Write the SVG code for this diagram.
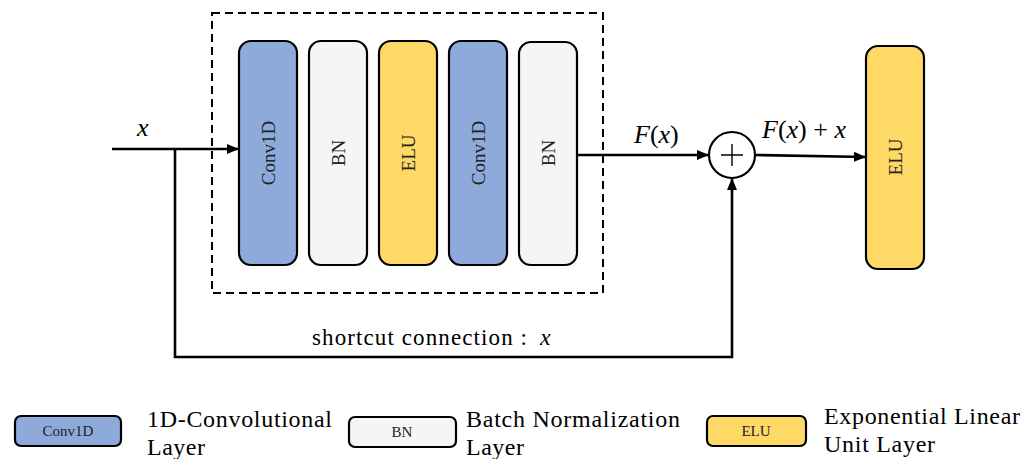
<svg xmlns="http://www.w3.org/2000/svg" width="1035" height="459" viewBox="0 0 1035 459">
<style>
.blk{stroke:#000;stroke-width:2.2}
.conv{fill:#8eaadb}
.bn{fill:#f5f5f5}
.elu{fill:#ffd966}
.lbl{font-family:"Liberation Serif",serif;font-size:19px;fill:#222;text-anchor:middle;dominant-baseline:central}
.leg{font-family:"Liberation Serif",serif;font-size:15px;fill:#222;text-anchor:middle;dominant-baseline:central}
.txt{font-family:"Liberation Serif",serif;font-size:24px;fill:#000}
.math{font-family:"Liberation Serif",serif;font-style:italic;font-size:26px;fill:#000}
.ln{stroke:#000;stroke-width:2.6;fill:none}
</style>
<defs>
<marker id="ah" viewBox="0 0 12 10" refX="12" refY="5" markerWidth="12" markerHeight="10" markerUnits="userSpaceOnUse" orient="auto">
<path d="M0,0 L12,5 L0,10 z" fill="#000"/>
</marker>
</defs>
<rect x="212" y="13" width="391" height="280" fill="none" stroke="#000" stroke-width="2" stroke-dasharray="8,5"/>
<g id="conv1"><rect class="blk conv" x="239" y="41" width="58" height="224" rx="12"/><text class="lbl" transform="translate(268,153) rotate(-90)">Conv1D</text></g>
<g id="bn1"><rect class="blk bn" x="309" y="41" width="58" height="224" rx="12"/><text class="lbl" transform="translate(338,153) rotate(-90)">BN</text></g>
<g id="elu1"><rect class="blk elu" x="379" y="41" width="58" height="224" rx="12"/><text class="lbl" transform="translate(408,153) rotate(-90)">ELU</text></g>
<g id="conv2"><rect class="blk conv" x="449" y="41" width="58" height="224" rx="12"/><text class="lbl" transform="translate(478,153) rotate(-90)">Conv1D</text></g>
<g id="bn2"><rect class="blk bn" x="519" y="42" width="58" height="223" rx="12"/><text class="lbl" transform="translate(548,153) rotate(-90)">BN</text></g>
<g id="add"><circle cx="732" cy="155" r="23" fill="#fff" stroke="#000" stroke-width="2.2"/><path d="M721,155 H743 M732,144 V166" stroke="#000" stroke-width="1.4"/></g>
<g id="elu2"><rect class="blk elu" x="866" y="46" width="58" height="223" rx="12"/><text class="lbl" transform="translate(895,157) rotate(-90)">ELU</text></g>
<g id="connectors">
<path class="ln" d="M112,149 H239" marker-end="url(#ah)"/>
<path class="ln" d="M175,149 V357 H732 V178" marker-end="url(#ah)"/>
<path class="ln" d="M577,155 H709" marker-end="url(#ah)"/>
<path class="ln" d="M755,155 L866,157" marker-end="url(#ah)"/>
</g>
<text class="math" x="137" y="136">x</text>
<text class="math" x="634" y="143">F<tspan font-style="normal">(</tspan>x<tspan font-style="normal">)</tspan></text>
<text class="math" x="762" y="138">F<tspan font-style="normal">(</tspan>x<tspan font-style="normal">) + </tspan>x</text>
<text class="txt" x="312" y="345" textLength="215" style="font-size:23px">shortcut connection :</text>
<text class="math" x="540" y="345" style="font-size:24px">x</text>
<g id="legend-conv"><rect class="blk conv" x="15" y="416" width="106" height="30" rx="6"/><text class="leg" x="68" y="431">Conv1D</text></g>
<text class="txt" x="147" y="427" textLength="185">1D-Convolutional</text>
<text class="txt" x="147" y="455" textLength="58">Layer</text>
<g id="legend-bn"><rect class="blk bn" x="349" y="417" width="107" height="30" rx="6"/><text class="leg" x="402" y="432">BN</text></g>
<text class="txt" x="466" y="427" textLength="214">Batch Normalization</text>
<text class="txt" x="466" y="455" textLength="58">Layer</text>
<g id="legend-elu"><rect class="blk elu" x="707" y="416" width="99" height="30" rx="6"/><text class="leg" x="756" y="431">ELU</text></g>
<text class="txt" x="824" y="424" textLength="196">Exponential Linear</text>
<text class="txt" x="824" y="452" textLength="111">Unit Layer</text>
</svg>
